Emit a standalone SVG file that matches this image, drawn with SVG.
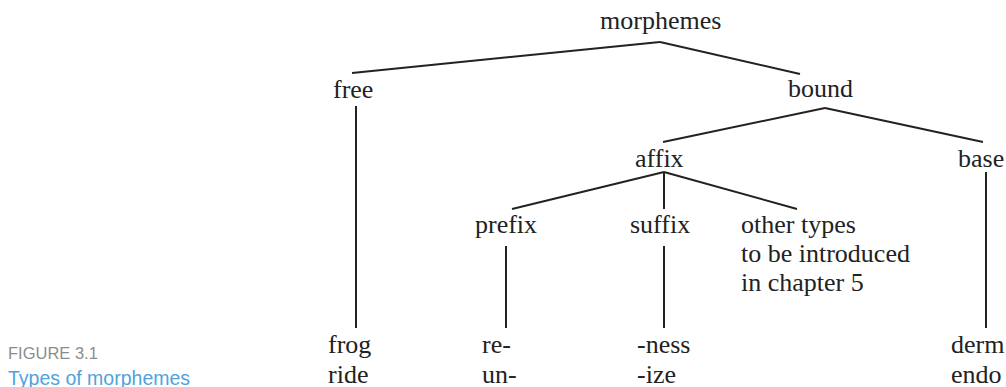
<svg xmlns="http://www.w3.org/2000/svg" width="1006" height="387" viewBox="0 0 1006 387">
<style>
.t{font-family:"Liberation Serif","Times New Roman",serif;font-size:26px;fill:#222}
.e{stroke:#222;stroke-width:2;fill:none;stroke-linecap:butt}
.cap1{font-family:"Liberation Sans",Arial,sans-serif;font-size:16.5px;fill:#8c8c8c}
.cap2{font-family:"Liberation Sans",Arial,sans-serif;font-size:19.5px;fill:#4fa3dc}
</style>
<rect width="1006" height="387" fill="#fff"/>
<g id="connectors">
<line class="e" x1="660" y1="42" x2="352" y2="73"/>
<line class="e" x1="660" y1="42" x2="800" y2="74"/>
<line class="e" x1="356" y1="106" x2="356" y2="328"/>
<line class="e" x1="825" y1="108" x2="663" y2="142"/>
<line class="e" x1="825" y1="108" x2="983" y2="142"/>
<line class="e" x1="664" y1="172" x2="512" y2="209"/>
<line class="e" x1="664" y1="172" x2="664" y2="209"/>
<line class="e" x1="664" y1="172" x2="797" y2="209"/>
<line class="e" x1="506" y1="246" x2="506" y2="328"/>
<line class="e" x1="664" y1="246" x2="664" y2="328"/>
<line class="e" x1="986" y1="172" x2="986" y2="328"/>
</g>
<g id="morphemes"><text class="t" x="600" y="29">morphemes</text></g>
<g id="free"><text class="t" x="333" y="98">free</text></g>
<g id="bound"><text class="t" x="788" y="97">bound</text></g>
<g id="affix"><text class="t" x="635" y="167">affix</text></g>
<g id="base"><text class="t" x="958" y="167">base</text></g>
<g id="prefix"><text class="t" x="475" y="233">prefix</text></g>
<g id="suffix"><text class="t" x="630" y="233">suffix</text></g>
<g id="other"><text class="t" x="741" y="233">other types</text><text class="t" x="741" y="262">to be introduced</text><text class="t" x="741" y="291">in chapter 5</text></g>
<g id="free-ex"><text class="t" x="328" y="353">frog</text><text class="t" x="328" y="383">ride</text></g>
<g id="prefix-ex"><text class="t" x="482" y="353">re-</text><text class="t" x="482" y="383">un-</text></g>
<g id="suffix-ex"><text class="t" x="637" y="353">-ness</text><text class="t" x="637" y="383">-ize</text></g>
<g id="base-ex"><text class="t" x="951" y="353">derm</text><text class="t" x="951" y="383">endo</text></g>
<g id="caption"><text class="cap1" x="8" y="359">FIGURE 3.1</text><text class="cap2" x="8" y="385">Types of morphemes</text></g>
</svg>
